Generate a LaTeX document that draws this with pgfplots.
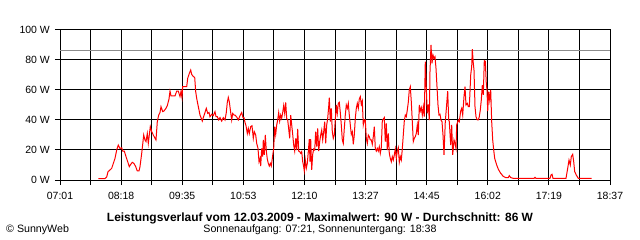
\documentclass[border=0pt]{standalone}
\usepackage{pgfplots}
\pgfplotsset{compat=1.18}
\usepackage{pgfplotstable}
\usepackage{fontspec}
\setmainfont{Liberation Sans}
% px = horizontal position on the time axis (60 = 07:01, 610 = 18:37), W = power in watts
\pgfplotstableread{
px W
98.3 0.9
105 1
106.7 2
108 5.5
110 6.7
111.7 7.8
113.3 11
115 14.4
116.7 20
118.3 23.3
120 21
121.7 21.5
122.7 19.3
124.3 19.3
126 15.6
127.7 12.2
129.3 8.9
130.7 10.4
132.3 11.8
134 11
135.7 8.9
137.3 6
139 6
140 8.9
141.7 17.8
142.7 23.8
143.7 30
145 26.7
146 25.6
147.3 31
148.3 24.4
149.3 30
150.3 35.6
151.7 32.2
153.3 30
155 27.8
156 26.7
157.3 38.9
158.7 43.3
160 45
161 48.9
162.7 45.6
164 46
166 47.8
167.3 49.6
169 54
170 59.3
171 56
173.3 56
175 56
176.7 59.3
178.3 59.3
180 55.6
181 59
182 55
182.7 62.2
185 62.2
186.7 62.2
187.7 67.8
189.3 71
190.7 73.3
191.7 70.4
193.3 69
194.7 68.4
195.7 58.9
196.7 54.4
197.7 51
199 46.7
200 43.3
201.3 41.1
202.3 39.3
203.3 41.6
204.7 44.4
206.3 47.8
207.7 44.4
209 45
210 42.2
211.7 43.8
213.3 42.9
215 45.6
216 42.2
217.3 42.2
218.7 40
220 41.6
221.7 39.3
223.3 41.6
225 40
226.3 45
227.3 51.8
228.3 55
229.3 52.2
230.7 45
231.7 40
232.7 44.4
234 43.3
235 43.3
236.7 42
238.3 40
240 42.9
241.7 45
243 41.6
244 41.6
245 38.4
246 36.2
247.3 31
248.3 34.4
249.3 31
250.7 35.6
252 36.2
253.3 27.8
254.3 32.2
255.7 30
256.7 24.4
258 21.1
259 12.2
260 14.4
260.7 9.3
261.7 21.1
262.7 15.6
263.3 26.7
264.3 16.7
265.3 30
266.3 19.3
267.3 14
268.3 11.1
269.3 9.3
270.3 11.1
271.3 9.3
272.3 14.4
273.7 21.1
274.7 35.6
275.7 30.4
276.7 36.7
277.7 40
278.7 45
279.7 39.3
280.7 43.3
281.7 41.1
282.7 45
283.7 49.6
284.7 44.4
285.7 51.8
286.7 41.1
287.7 40
288.7 34
289.7 27.8
290.7 43.3
291.7 36.7
292.7 30.4
293.7 23.3
294.7 19.3
295.7 27.8
296.7 20
297.7 34
298.7 19.3
299.7 18.9
300.7 17.8
301.7 18.9
302.7 12.2
303.7 8.9
304.3 6
305.3 13.3
306.3 7.8
307.3 11.1
308.3 18.9
309.3 27.3
310 12.2
310.7 27.3
311.7 6.7
312.7 17.1
313.7 20.7
314.7 20
315.7 32.2
316.7 22.2
317.7 34.4
318.7 19.3
319.7 25.6
320.7 30
321.7 33.3
322.7 26.7
323.7 32.2
324.7 38.9
325.7 24.4
326.7 36.7
327.7 41.1
328.7 48.9
329.3 54.9
330.3 38.9
331.3 47.8
332.3 32.2
333.3 27.8
334.3 30
335.3 40
336.3 50
337.3 44.4
338.3 51.1
339.3 51.8
340.3 45
341.3 36.7
342.3 26.7
343.3 24.4
344.3 34.4
345.3 43.3
346.3 50
347.3 47.8
348.3 51.1
349.3 43.3
350.3 36.7
351.3 30.4
352.3 32.2
353.3 23.8
354.3 30
355.3 41.1
356.3 47.8
357.3 51.1
358.3 47.8
359.3 54
360.3 55.6
361.3 50.4
362.3 52.7
363.3 36.7
364.3 40
365.3 40
366.3 27.8
367.3 24.4
368.3 30
369.3 28.9
370.3 26.7
371.3 26.7
372.3 23.8
373.3 28.9
374.3 35.6
375.3 21.1
376.3 19.3
377.3 21.1
378.3 19.3
379.3 22.2
380.3 17.8
381.3 21.6
382.3 39.3
383.3 40.7
384.3 41.6
385.3 25.6
386.3 37.8
387.3 20
388.3 31.1
389.3 17.8
390.3 14.4
391.3 12.2
392.3 15.6
393.3 13.3
394.3 16.7
395.3 20.7
396.3 14.4
397.3 19.3
398.3 21.6
399.3 11.8
400.3 15.6
401.3 13.3
402.3 20.7
403.3 30
404.3 39.3
405.3 43.3
406.3 42.2
407.3 46.7
408.3 51.8
409.3 60
410.3 62.2
411.3 52.2
412.3 38.9
413.3 25.6
414.3 27.8
415.3 28.9
416.3 31.1
417.3 36.7
418.3 30
419.3 50
420.3 46
421.3 48.2
422.3 43.3
423.3 48.9
424.3 42.2
425.3 78.9
426.3 61.1
427.3 44.4
428.3 50.4
429.3 40
430 72.2
431 90
432 77.8
433 83.3
434 81.1
435 82.2
436 74.4
437 62.2
438 50
439 43.3
440 43.8
441 40
442 38.9
443 30
444 16.7
445.3 38.9
446.5 48.9
447.7 59.3
448.7 40
449.3 38.9
450.7 23.3
451.7 36.7
452.7 16.7
454 26.7
455 24.4
456 21.1
456.7 36.7
458.3 40
459.3 38.9
460.7 46
461.7 47.8
462.7 43.3
464 55.6
465 62.2
466 50
467.3 51.1
468.3 48.9
469.3 48.9
470 58.9
470.7 70
471.7 75.6
472.3 87.3
473.3 77.8
474 73.3
475 48.9
476 42.2
477.3 40
478.3 40
479.3 42.2
480.3 46.7
481.3 53.3
482.3 63.3
483.3 56.7
484.3 79.6
485.3 79.1
486.3 64.4
487 60
487.7 46
488.7 58.9
489.7 53.3
490.7 60
491.7 38.9
492.7 26.7
493.7 20
494.7 14.4
495.7 12.2
496.7 10
497.7 8.2
498.7 6.7
499.7 5.6
500.7 4.4
501.7 3.8
502.7 2.7
504 2.2
505.7 1.6
508.3 1.6
509.3 2.9
510.7 1.6
513.3 1.1
534 1.1
535 1.8
536 1.1
550 1.1
551 3.3
552 3.8
553 1.1
566 1.1
567.7 7.8
569 13.3
570.3 10
571.3 15.6
572.7 17.1
573.7 12.2
574.7 5.6
576.3 3.3
578.3 1.1
591.7 1.1
}\powerdata
\begin{document}
\begin{tikzpicture}
\begin{axis}[
  at={(60bp,60bp)}, anchor=south west,
  scale only axis, width=550bp, height=150bp,
  xmin=60, xmax=610, ymin=0, ymax=100,
  axis line style={black, line width=1bp},
  xtick={60,121.111,182.222,243.333,304.444,365.556,426.667,487.778,548.889,610},
  minor xtick={90.556,151.667,212.778,273.889,335,396.111,457.222,518.333,579.444},
  xticklabels={07:01,08:18,09:35,10:53,12:10,13:27,14:45,16:02,17:19,18:37},
  ytick={0,20,40,60,80,100},
  yticklabels={0 W,20 W,40 W,60 W,80 W,100 W},
  tick pos=left, tick align=outside,
  major tick length=5bp, minor tick length=5bp,
  tick style={black, line width=1bp},
  grid=both,
  major grid style={black, line width=1bp},
  minor grid style={black, line width=1bp},
  tick label style={font=\fontsize{10.5}{12}\selectfont, inner sep=0pt},
  xticklabel style={yshift=-7bp},
  yticklabel style={xshift=-5bp},
  clip=false,
]
\addplot[gray!90, line width=1bp] coordinates {(60,86) (610,86)};
\addplot[red, line width=1bp, line join=miter] table[x=px, y=W] {\powerdata};
\end{axis}
\node[anchor=base, inner sep=0pt, font=\bfseries\fontsize{12}{14}\selectfont] at (320bp,19bp)
  {Leistungsverlauf vom 12.03.2009 - Maximalwert: 90 W - Durchschnitt: 86 W};
\node[anchor=base, inner sep=0pt, font=\fontsize{10.7}{12}\selectfont] at (320bp,8bp)
  {Sonnenaufgang: 07:21, Sonnenuntergang: 18:38};
\node[anchor=base west, inner sep=0pt, font=\fontsize{10.7}{12}\selectfont] at (6bp,8bp)
  {© SunnyWeb};
\pgfresetboundingbox
\path[use as bounding box] (0,0) rectangle (640bp,240bp);
\end{tikzpicture}
\end{document}
